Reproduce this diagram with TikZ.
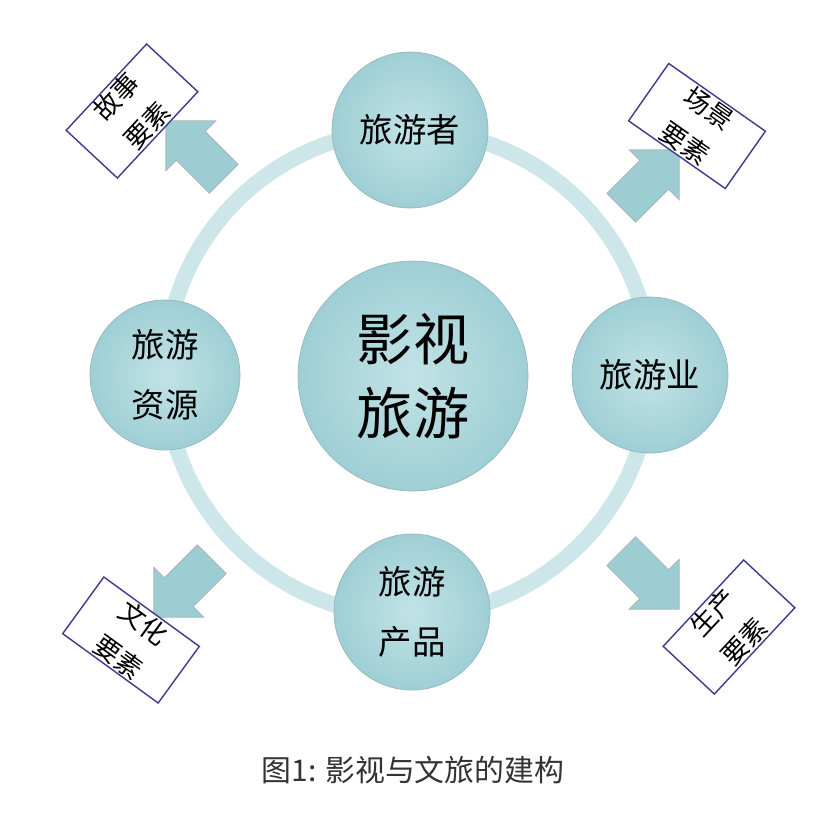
\documentclass[tikz,border=0pt]{standalone}
\usepackage{fontspec}
\usepackage{tikz}
\usetikzlibrary{shapes.arrows}
\newfontfamily\cjk{Noto Sans CJK SC}
\definecolor{ringc}{HTML}{CDE6EA}
\definecolor{ballc}{HTML}{9ECFD5}
\definecolor{balllt}{HTML}{C2E3E6}
\definecolor{arrowc}{HTML}{9CCDD2}
\definecolor{boxc}{HTML}{3C3C8E}

\tikzset{
  ball/.style={circle, shading=radial, inner color=balllt, outer color=ballc,
    draw=ballc!70!gray, thin, align=center, font=\cjk\fontsize{19}{34}\selectfont},
  bigarrow/.style={single arrow, fill=arrowc, draw=gray!60, inner sep=0.4cm,
    minimum height=1.64cm, single arrow head extend=0.3cm},
  tagbox/.style={draw=boxc, thick, fill=white, minimum width=2.36cm, minimum height=1.4cm,
    align=center, inner sep=0pt, font=\cjk\fontsize{15}{24}\selectfont},
}

\begin{document}
\begin{tikzpicture}[x=0.02cm, y=-0.02cm]
  \useasboundingbox[fill=white] (0,0) rectangle (817,816);

  % Ring
  \draw[ringc, line width=9pt] (408,373) circle[radius=4.86cm];

  % Centre
  \node[ball, minimum size=4.6cm, font=\cjk\fontsize{32}{42}\selectfont] (film) at (413,376) {影视\\旅游};

  % Outer nodes
  \node[ball, minimum size=3.12cm] (tourist)  at (410,130) {旅游者};
  \node[ball, minimum size=3.12cm] (industry) at (650,375) {旅游业};
  \node[ball, minimum size=3.12cm] (product)  at (412,612) {旅游\\产品};
  \node[ball, minimum size=3.0cm]  (resource) at (165,375) {旅游\\资源};

  % Block arrows
  \node[bigarrow, rotate=135] (arrTL) at (202,157) {};
  \node[bigarrow, rotate=45]  (arrTR) at (643,186) {};
  \node[bigarrow, rotate=225] (arrBL) at (190,581) {};
  \node[bigarrow, rotate=-45] (arrBR) at (643,573) {};

  % Element boxes
  \node[tagbox, rotate=47]  (story)   at (132,111) {故事\\要素};
  \node[tagbox, rotate=-35] (scene)   at (697,126) {场景\\要素};
  \node[tagbox, rotate=-36] (culture) at (131,640) {文化\\要素};
  \node[tagbox, rotate=47]  (produce) at (729,627) {生产\\要素};

  % Caption
  \node[font=\cjk\fontsize{17}{20}\selectfont, text=black!80] (caption) at (413,770) {图1: 影视与文旅的建构};
\end{tikzpicture}
\end{document}
